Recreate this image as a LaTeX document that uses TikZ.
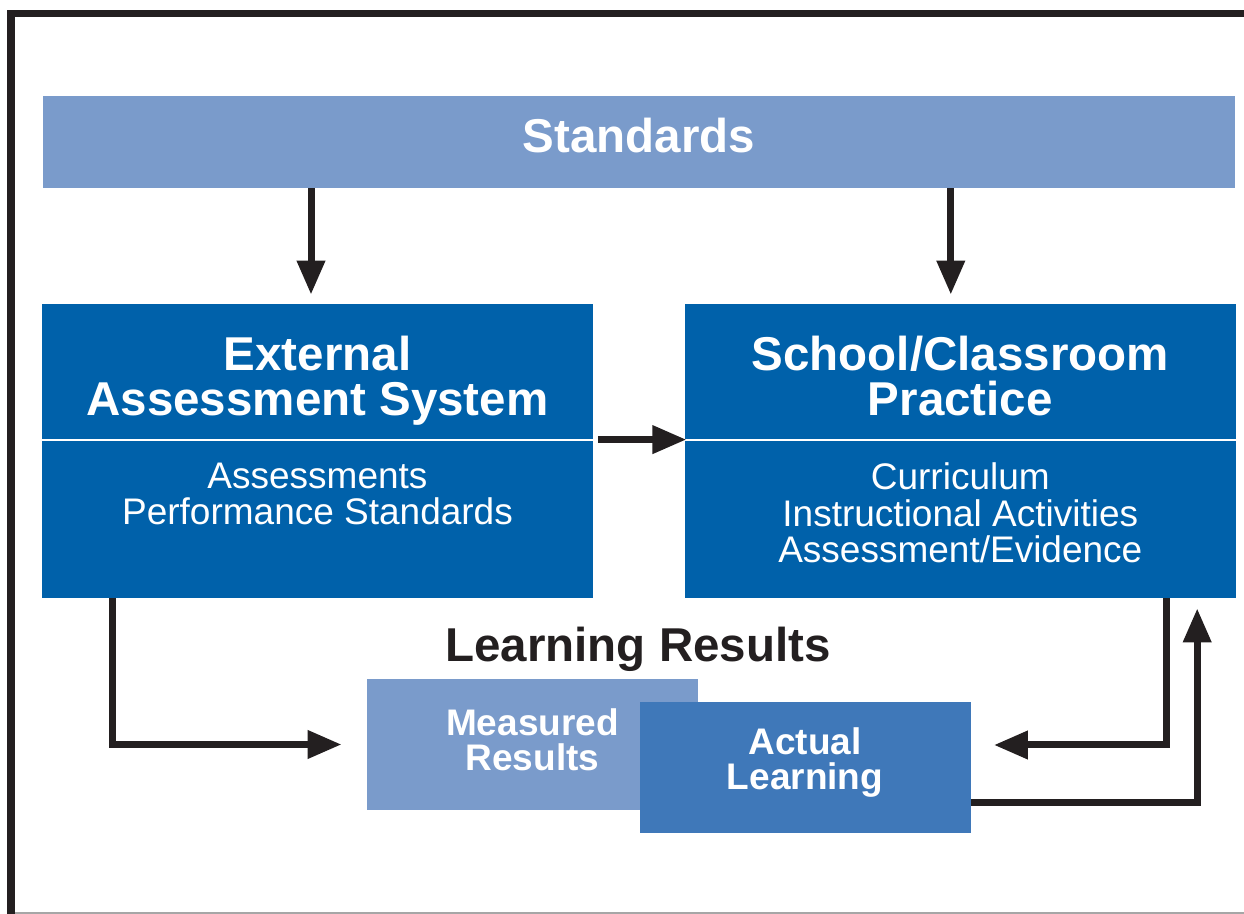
\documentclass[tikz,border=0pt]{standalone}
\usepackage{fontspec}
\setmainfont{Liberation Sans}
\usetikzlibrary{positioning}
\usetikzlibrary{arrows.meta}
\definecolor{paleblue}{RGB}{122,155,203}
\definecolor{deepblue}{RGB}{0,97,170}
\definecolor{midblue}{RGB}{63,120,185}
\definecolor{ink}{RGB}{35,31,32}

\begin{document}
\begin{tikzpicture}[
    x=0.5pt, y=-0.5pt,
    >={Triangle[length=17pt,width=13.5pt]},
    % node styles
    bar/.style = {
      fill=paleblue,
      draw=none,
      minimum width=596pt,
      minimum height=46pt,
      inner sep=0pt,
      text depth=7pt,
      font=\bfseries\fontsize{23.75}{22.5}\selectfont,
      text=white
    },
    bigbox/.style = {
      fill=deepblue,
      draw=none,
      minimum width=275.5pt,
      minimum height=147pt,
      inner sep=0pt
    },
    head/.style = {
      anchor=north,
      align=center,
      inner sep=0pt,
      font=\bfseries\fontsize{23.75}{22.5}\selectfont,
      text=white
    },
    items/.style = {
      anchor=north,
      align=center,
      inner sep=0pt,
      font=\fontsize{18.5}{18.25}\selectfont,
      text=white
    },
    result/.style = {
      draw=none,
      minimum width=165.5pt,
      minimum height=65.5pt,
      inner sep=0pt,
      align=center,
      font=\bfseries\fontsize{18.5}{17.5}\selectfont,
      text=white
    },
    heading/.style = {
      inner sep=0pt,
      font=\bfseries\fontsize{23.75}{22.5}\selectfont,
      text=ink
    },
    % arrow styles
    arr/.style = {->, line width=3.5pt, draw=ink},
    divider/.style = {draw=white, line width=1pt}
  ]
  \useasboundingbox (0,0) rectangle (1244,914);

  % --- Frame
  \draw[draw=ink, line width=3.75pt] (11,914) -- (11,13.5) -- (1244,13.5);
  \draw[draw=black!35, line width=0.75pt] (15,913) -- (1244,913);

  % --- Nodes
  \node[bar] (std) at (639,142) {Standards};

  \node[bigbox] (ext) at (317.5,451) {};
  \node[bigbox, right=45.5pt of ext] (school) {};

  \node[head] (extHead) at ([yshift=-16pt]ext.north) {External\\Assessment System};
  \node[head] (schoolHead) at ([yshift=-16pt]school.north) {School/Classroom\\Practice};

  \draw[divider] ([yshift=-68pt]ext.north west) -- ([yshift=-68pt]ext.north east);
  \draw[divider] ([yshift=-68pt]school.north west) -- ([yshift=-68pt]school.north east);

  \node[items] (extItems) at ([yshift=-79.5pt]ext.north) {Assessments\\Performance Standards};
  \node[items] (schoolItems) at ([yshift=-79.5pt]school.north) {Curriculum\\Instructional Activities\\Assessment/Evidence};

  \node[heading] (lrn) at (638,649) {Learning Results};
  \node[result, fill=paleblue, text depth=5pt] (meas) at (532.5,744.5) {Measured\\Results};
  \node[result, fill=midblue, text depth=8.75pt] (act) at (805,767.5) {Actual\\Learning};

  % --- Arrows
  \draw[arr, shorten >=4.5pt] ([xshift=-3.25pt]ext.north |- std.south) -- ([xshift=-3.25pt]ext.north);
  \draw[arr, shorten >=4.5pt] ([xshift=-4.75pt]school.north |- std.south) -- ([xshift=-4.75pt]school.north);
  \draw[arr] ([xshift=2.5pt,yshift=-68pt]ext.north east) -- ([xshift=1pt,yshift=-68pt]school.north west);

  % down and across to the results below
  \draw[arr, shorten >=12.5pt] ([xshift=35.5pt]ext.south west) |- (meas.west);
  \draw[arr, shorten >=11.5pt] ([xshift=-35pt]school.south east) |- ([yshift=11.25pt]act.east);

  % feedback from actual learning back up to practice
  \draw[arr, shorten >=5pt] ([yshift=-17.75pt]act.east) -| ([xshift=-19.5pt]school.south east);
\end{tikzpicture}
\end{document}
